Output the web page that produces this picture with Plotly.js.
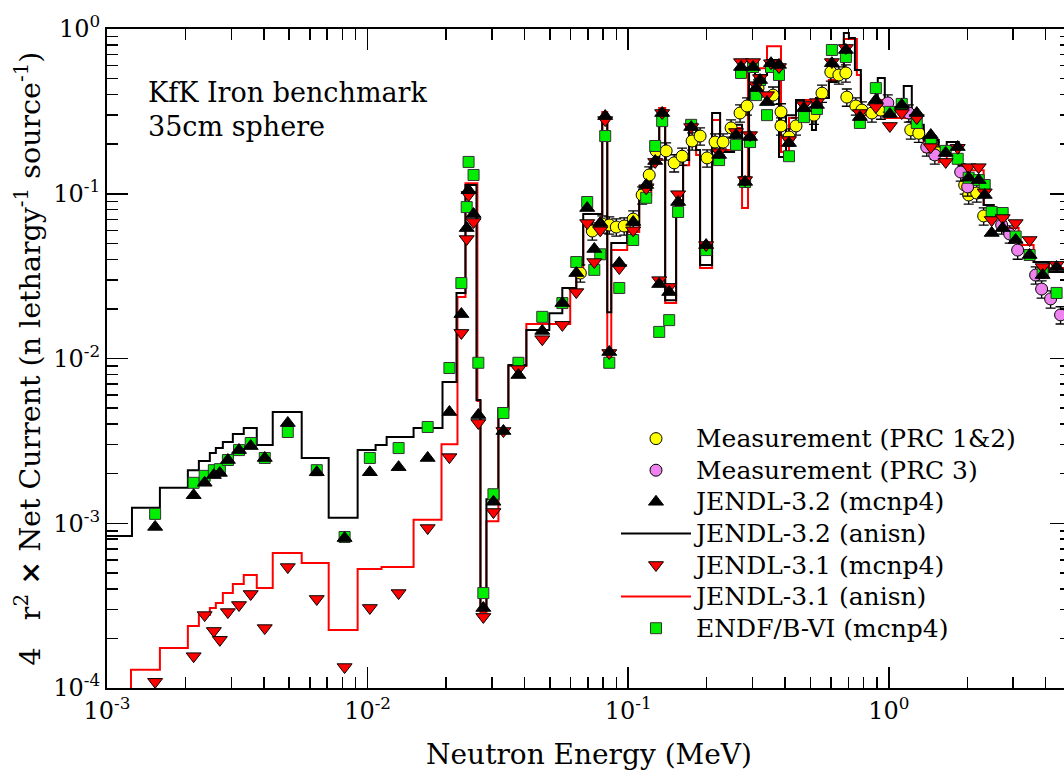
<!DOCTYPE html>
<html><head><meta charset="utf-8">
<script src="https://cdn.plot.ly/plotly-3.0.1.min.js"></script>
<style>html,body{margin:0;padding:0;overflow:hidden;background:#fff}#chart{width:1075px;height:771px}</style>
</head><body><div id="chart"></div>
<script>
// ---------- DATA ----------
// Energies (MeV) of the MCNP4 tally bins
var mcnpE = [1.53e-3, 2.15e-3, 2.37e-3, 2.57e-3, 2.71e-3, 2.91e-3, 3.21e-3, 3.56e-3, 4.03e-3, 4.94e-3,
  6.38e-3, 8.16e-3, 1.02e-2, 1.315e-2, 1.70e-2, 2.06e-2, 2.29e-2, 2.40e-2, 2.44e-2, 2.55e-2,
  2.66e-2, 2.78e-2, 3.04e-2, 3.32e-2, 3.79e-2, 4.68e-2, 5.59e-2, 6.32e-2, 6.96e-2, 7.41e-2,
  7.81e-2, 8.16e-2, 8.46e-2, 9.24e-2, 0.1045, 0.1172, 0.1269, 0.1315, 0.1350, 0.1436,
  0.1554, 0.1744, 0.1990, 0.2232, 0.2593, 0.2710, 0.2808, 0.2934, 0.3013, 0.3094,
  0.3205, 0.3408, 0.3531, 0.3789, 0.4139, 0.4724, 0.5298, 0.6047, 0.6842, 0.7744,
  0.8916, 1.009, 1.121, 1.280, 1.449, 1.653, 1.838, 2.025, 2.212, 2.333,
  2.481, 2.734, 3.066, 3.469, 3.891, 4.403];
var jendl32Mcnp = [9.5e-4, 1.48e-3, 1.76e-3, 1.96e-3, 2.02e-3, 2.42e-3, 2.78e-3, 2.94e-3, 2.49e-3, 4.06e-3,
  2.04e-3, 8.13e-4, 2.04e-3, 2.19e-3, 2.49e-3, 4.73e-3, 1.86e-2, 6.19e-2, 0.105, 7.53e-2,
  4.54e-3, 3.06e-4, 1.35e-3, 3.63e-3, 7.94e-3, 1.47e-2, 2.17e-2, 3.30e-2, 8.19e-2, 4.62e-2,
  6.64e-2, 0.296, 1.095e-2, 3.80e-2, 6.74e-2, 0.113, 0.158, 2.83e-2, 0.309, 2.53e-2,
  8.91e-2, 0.254, 4.88e-2, 0.172, 0.227, 0.588, 0.118, 0.221, 0.588, 0.438,
  0.490, 0.360, 0.620, 0.605, 0.203, 0.331, 0.346, 0.620, 0.746, 0.292,
  0.371, 0.305, 0.346, 0.309, 0.227, 0.177, 0.192, 0.125, 0.121, 9.83e-2,
  5.78e-2, 6.19e-2, 5.24e-2, 4.25e-2, 3.21e-2, 3.59e-2];
var jendl31Mcnp = [1.09e-4, 1.56e-4, 2.77e-4, 2.22e-4, 1.96e-4, 2.89e-4, 3.19e-4, 3.72e-4, 2.31e-4, 5.42e-4,
  3.47e-4, 1.34e-4, 3.06e-4, 3.77e-4, 9.35e-4, 2.52e-3, 1.43e-2, 5.31e-2, 9.83e-2, 6.74e-2,
  4.06e-3, 2.70e-4, 1.17e-3, 3.63e-3, 8.63e-3, 1.31e-2, 1.60e-2, 2.53e-2, 6.64e-2, 3.85e-2,
  6.0e-2, 0.280, 1.08e-2, 3.54e-2, 6.0e-2, 0.108, 0.156, 2.99e-2, 0.309, 2.72e-2,
  9.94e-2, 0.254, 4.88e-2, 0.179, 0.237, 0.630, 0.121, 0.227, 0.630, 0.456,
  0.504, 0.397, 0.620, 0.588, 0.212, 0.346, 0.360, 0.630, 0.767, 0.309,
  0.336, 0.258, 0.309, 0.288, 0.192, 0.156, 0.190, 0.145, 0.145, 0.102,
  6.93e-2, 7.12e-2, 6.64e-2, 5.24e-2, 3.59e-2, 3.70e-2];
var endfMcnp = [1.14e-3, 1.76e-3, 1.94e-3, 2.10e-3, 2.13e-3, 2.42e-3, 2.78e-3, 3.07e-3, 2.49e-3, 3.58e-3,
  2.10e-3, 8.25e-4, 2.49e-3, 2.86e-3, 3.84e-3, 8.76e-3, 2.87e-2, 8.30e-2, 0.156, 0.130,
  9.42e-3, 3.77e-4, 1.50e-3, 4.67e-3, 9.42e-3, 1.79e-2, 2.17e-2, 3.85e-2, 8.91e-2, 3.45e-2,
  4.29e-2, 0.224, 9.42e-3, 2.68e-2, 5.24e-2, 9.45e-2, 0.195, 1.45e-2, 0.276, 1.71e-2,
  7.75e-2, 0.262, 4.55e-2, 0.160, 0.198, 0.541, 0.118, 0.206, 0.588, 0.397,
  0.490, 0.300, 0.588, 0.526, 0.169, 0.292, 0.327, 0.746, 0.676, 0.269,
  0.438, 0.314, 0.351, 0.269, 0.209, 0.182, 0.163, 0.125, 0.121, 0.113,
  7.75e-2, 7.64e-2, 5.50e-2, 4.25e-2, 3.30e-2, 2.50e-2];

// Measurement (PRC 1&2)
var measE = [0.0655, 0.0728, 0.0795, 0.0846, 0.090, 0.0965, 0.1045, 0.1131, 0.1204, 0.128,
  0.1398, 0.1501, 0.161, 0.1759, 0.1887, 0.2007, 0.2154, 0.2312, 0.2481, 0.2686,
  0.2857, 0.3148, 0.3594, 0.3857, 0.3857, 0.4139, 0.4403, 0.516, 0.554, 0.599,
  0.643, 0.684, 0.690, 0.747, 0.788, 0.861, 0.932, 1.214, 1.303, 1.501,
  1.955, 2.025, 2.174, 2.312];
var measV = [0.033, 0.0594, 0.0655, 0.0646, 0.0628, 0.0637, 0.0702, 0.0983, 0.130, 0.182,
  0.182, 0.154, 0.169, 0.209, 0.224, 0.165, 0.206, 0.206, 0.251, 0.309,
  0.341, 0.438, 0.397, 0.314, 0.258, 0.221, 0.258, 0.300, 0.408, 0.548,
  0.526, 0.541, 0.386, 0.341, 0.322, 0.309, 0.322, 0.244, 0.233, 0.184,
  0.113, 0.0983, 0.101, 0.0733];
// Measurement (PRC 3)
var prc3E = [0.991, 1.193, 1.398, 1.501, 1.887, 2.007, 2.710, 2.909, 3.121, 3.659, 3.857, 4.176, 4.56];
var prc3V = [0.356, 0.309, 0.192, 0.172, 0.1355, 0.110, 0.0646, 0.057, 0.0455, 0.0321, 0.0264, 0.0230, 0.0184];
var measErrPct = 12;

// ANISN group structure (bin edges, MeV) and group values
var jendl32Edges = [1.000e-3, 1.247e-3, 1.596e-3, 2.043e-3, 2.252e-3, 2.481e-3, 2.616e-3, 2.783e-3, 3.040e-3, 3.348e-3,
  3.756e-3, 4.325e-3, 5.586e-3, 7.09e-3, 9.157e-3, 1.073e-2, 1.183e-2, 1.501e-2, 1.938e-2, 2.193e-2,
  2.374e-2, 2.616e-2, 2.710e-2, 2.857e-2, 3.176e-2, 3.469e-2, 4.066e-2, 4.98e-2, 5.586e-2, 6.32e-2,
  6.72e-2, 7.95e-2, 8.31e-2, 8.61e-2, 9.91e-2, 0.1102, 0.1225, 0.1315, 0.1386, 0.1527,
  0.1624, 0.1713, 0.1822, 0.1887, 0.2098, 0.2252, 0.2548, 0.2734, 0.2909, 0.3066,
  0.3408, 0.3789, 0.4031, 0.4403, 0.4724, 0.5070, 0.5252, 0.5890, 0.632, 0.672,
  0.7027, 0.741, 0.781, 0.907, 0.965, 1.141, 1.225, 1.362, 1.554, 1.668,
  1.854, 1.990, 2.312, 2.525, 2.758, 3.148, 3.594, 4.102, 5.0];
var jendl32Anisn = [8.37e-4, 1.24e-3, 1.64e-3, 2.10e-3, 2.39e-3, 2.67e-3, 2.86e-3, 3.11e-3, 3.48e-3, 3.78e-3,
  2.99e-3, 4.73e-3, 2.49e-3, 1.08e-3, 2.78e-3, 2.99e-3, 3.34e-3, 3.78e-3, 7.20e-3, 2.50e-2,
  0.113, 5.60e-3, 2.97e-4, 1.40e-3, 5.01e-3, 9.13e-3, 1.49e-2, 1.88e-2, 2.68e-2, 3.70e-2,
  7.53e-2, 0.288, 1.91e-2, 5.03e-2, 6.46e-2, 0.1054, 0.160, 0.314, 2.26e-2, 8.55e-2,
  0.160, 0.269, 0.184, 3.70e-2, 0.309, 0.179, 0.262, 0.110, 0.564, 0.526,
  0.648, 0.167, 0.300, 0.371, 0.314, 0.244, 0.381, 0.476, 0.564, 0.946,
  0.882, 0.564, 0.322, 0.504, 0.331, 0.451, 0.262, 0.212, 0.184, 0.206,
  0.139, 0.121, 8.55e-2, 7.43e-2, 5.86e-2, 4.55e-2, 3.85e-2, 3.35e-2];
var jendl31Edges = [1.000e-3, 1.236e-3, 1.596e-3, 2.043e-3, 2.252e-3, 2.481e-3, 2.616e-3, 2.783e-3, 3.040e-3, 3.348e-3,
  3.756e-3, 4.325e-3, 5.586e-3, 7.09e-3, 9.157e-3, 1.131e-2, 1.501e-2, 1.921e-2, 2.212e-2, 2.374e-2,
  2.638e-2, 2.710e-2, 2.857e-2, 3.176e-2, 3.469e-2, 4.066e-2, 5.99e-2, 6.32e-2, 6.72e-2, 7.95e-2,
  8.31e-2, 8.61e-2, 9.91e-2, 0.1102, 0.1225, 0.1315, 0.1386, 0.1527, 0.1624, 0.1713,
  0.1822, 0.1887, 0.2098, 0.2252, 0.2548, 0.2734, 0.2882, 0.3066, 0.3408, 0.3857,
  0.4139, 0.4403, 0.5070, 0.5252, 0.5890, 0.632, 0.672, 0.754, 0.781, 0.907,
  0.965, 1.141, 1.225, 1.362, 1.554, 1.668, 1.854, 1.990, 2.312, 2.525,
  2.758, 3.148, 3.594, 4.102, 5.0];
var jendl31Anisn = [7e-5, 1.29e-4, 1.75e-4, 2.38e-4, 2.77e-4, 3.06e-4, 3.28e-4, 3.77e-4, 4.28e-4, 4.85e-4,
  4.05e-4, 6.60e-4, 5.74e-4, 2.25e-4, 5.27e-4, 5.42e-4, 1.05e-3, 3.02e-3, 2.36e-2, 0.116,
  5.52e-3, 2.89e-4, 1.03e-3, 4.87e-3, 9.0e-3, 1.62e-2, 2.60e-2, 3.54e-2, 6.46e-2, 0.314,
  9.5e-3, 4.55e-2, 5.86e-2, 9.83e-2, 0.156, 0.331, 2.17e-2, 9.16e-2, 0.149, 0.262,
  0.172, 3.54e-2, 0.280, 0.184, 0.251, 8.19e-2, 0.578, 0.578, 0.787, 0.179,
  0.288, 0.371, 0.280, 0.381, 0.490, 0.548, 0.870, 0.526, 0.300, 0.371,
  0.288, 0.288, 0.244, 0.179, 0.156, 0.172, 0.149, 0.139, 8.55e-2, 7.64e-2,
  6.19e-2, 4.88e-2, 3.85e-2, 3.54e-2];

// Axis ticks
var xTickVals = [1e-3, 1e-2, 1e-1, 1];
var xTickText = ['10<sup>-3</sup>', '10<sup>-2</sup>', '10<sup>-1</sup>', '10<sup>0</sup>'];
var yTickVals = [1e-4, 1e-3, 1e-2, 1e-1, 1];
var yTickText = ['10<sup>-4</sup>', '10<sup>-3</sup>', '10<sup>-2</sup>', '10<sup>-1</sup>', '10<sup>0</sup>'];

// ---------- BUILD ----------
function stepY(v) { return v.concat([v[v.length - 1]]); }
function minorTicks(lo, hi) {
  var out = [];
  for (var p = lo; p <= hi; p++) for (var m = 2; m <= 9; m++) out.push(m * Math.pow(10, p));
  return out;
}
var FONT = 'DejaVu Serif';
function L(s) { return '<span style="font-size:25px">' + s + '</span>'; }

var traces = [
  {x: jendl31Edges, y: stepY(jendl31Anisn), mode: 'lines', name: L('JENDL-3.1 (anisn)'), legendrank: 6,
   line: {shape: 'hv', color: '#ff0000', width: 2}},
  {x: jendl32Edges, y: stepY(jendl32Anisn), mode: 'lines', name: L('JENDL-3.2 (anisn)'), legendrank: 4,
   line: {shape: 'hv', color: '#000000', width: 2}},
  {x: measE, y: measV, mode: 'markers', name: L('Measurement (PRC 1&amp;2)'), legendrank: 1,
   marker: {symbol: 'circle', size: 12, color: '#ffff00', line: {color: '#000', width: 1}},
   error_y: {type: 'percent', value: measErrPct, color: '#000', thickness: 1.3, width: 5}},
  {x: prc3E, y: prc3V, mode: 'markers', name: L('Measurement (PRC 3)'), legendrank: 2,
   marker: {symbol: 'circle', size: 12, color: '#ee82ee', line: {color: '#000', width: 1}},
   error_y: {type: 'percent', value: measErrPct, color: '#000', thickness: 1.3, width: 5}},
  {x: mcnpE, y: endfMcnp, mode: 'markers', name: L('ENDF/B-VI (mcnp4)'), legendrank: 7,
   marker: {symbol: 'square', size: 11, color: '#00ee00', line: {color: '#333', width: 1}}},
  {x: mcnpE, y: jendl31Mcnp, mode: 'markers', name: L('JENDL-3.1 (mcnp4)'), legendrank: 5,
   marker: {symbol: 'triangle-down', size: 13, color: '#ff0000', line: {color: '#000', width: 1}}},
  {x: mcnpE, y: jendl32Mcnp, mode: 'markers', name: L('JENDL-3.2 (mcnp4)'), legendrank: 3,
   marker: {symbol: 'triangle-up', size: 13, color: '#000000', line: {color: '#000', width: 1}}}
];

var axisCommon = {
  type: 'log', showgrid: false, zeroline: false, showline: true, linecolor: '#000', linewidth: 2,
  mirror: 'allticks', ticks: 'inside', ticklen: 21, tickwidth: 1.5, tickcolor: '#000',
  tickmode: 'array', tickfont: {family: FONT, size: 24, color: '#000'}
};

var layout = {
  width: 1075, height: 771,
  margin: {l: 107, r: 4, t: 29, b: 83},
  paper_bgcolor: '#fff', plot_bgcolor: '#fff',
  font: {family: FONT, color: '#000', size: 24},
  showlegend: true,
  legend: {x: 0.528, y: 0.41, xanchor: 'left', yanchor: 'top', bgcolor: 'rgba(0,0,0,0)',
           font: {family: FONT, size: 22, color: '#000'}, itemwidth: 70, traceorder: 'normal'},
  xaxis: Object.assign({}, axisCommon, {
    range: [-3, 0.699], tickvals: xTickVals, ticktext: xTickText,
    minor: {tickmode: 'array', tickvals: minorTicks(-3, 0), ticks: 'inside', ticklen: 11, tickwidth: 1.5, tickcolor: '#000'},
    title: {text: 'Neutron Energy (MeV)', font: {family: FONT, size: 28, color: '#000'}, standoff: 23}
  }),
  yaxis: Object.assign({}, axisCommon, {
    range: [-4, 0], tickvals: yTickVals, ticktext: yTickText,
    minor: {tickmode: 'array', tickvals: minorTicks(-4, -1), ticks: 'inside', ticklen: 11, tickwidth: 1.5, tickcolor: '#000'},
    title: {text: '4\u00a0\u00a0\u00a0r<sup>2</sup> <b>\u00d7</b> Net Current (n lethargy<sup>-1</sup> source<sup>-1</sup>)',
            font: {family: FONT, size: 28.5, color: '#000'}, standoff: 4}
  }),
  annotations: [
    {text: 'KfK Iron benchmark', xref: 'paper', yref: 'paper', x: 0.0405, y: 0.9044, xanchor: 'left', yanchor: 'middle',
     showarrow: false, font: {family: FONT, size: 27, color: '#000'}},
    {text: '35cm sphere', xref: 'paper', yref: 'paper', x: 0.0405, y: 0.8528, xanchor: 'left', yanchor: 'middle',
     showarrow: false, font: {family: FONT, size: 27, color: '#000'}}
  ]
};

Plotly.newPlot('chart', traces, layout, {displayModeBar: false, responsive: false, staticPlot: true});
</script>
</body></html>
